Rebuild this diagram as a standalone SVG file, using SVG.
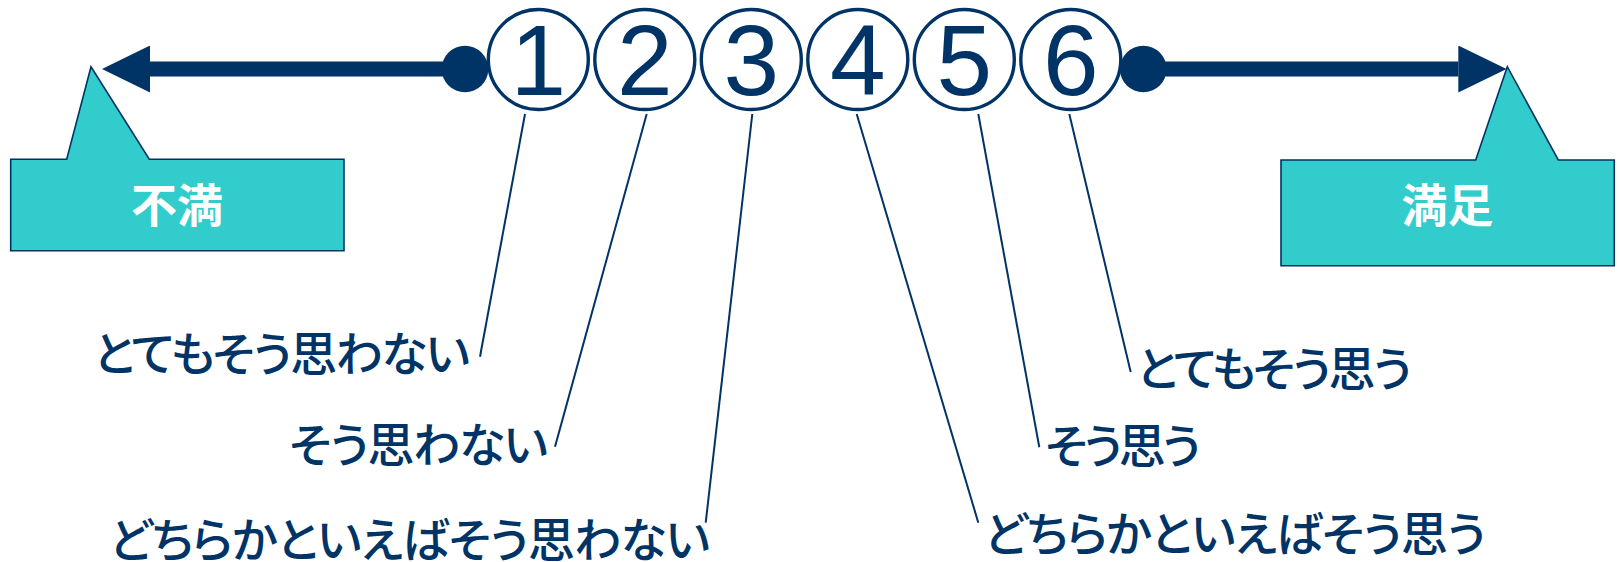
<svg xmlns="http://www.w3.org/2000/svg" width="1620" height="562" viewBox="0 0 1620 562">
  <style>
    .callout { fill: #33CCCC; stroke: #003366; stroke-width: 1.6; stroke-linejoin: miter; }
    .callout-text { font-family: "Noto Sans CJK JP", sans-serif; font-weight: bold; font-size: 46px; fill: #FFFFFF; text-anchor: middle; }
    .ring { fill: #FFFFFF; stroke: #003366; stroke-width: 3.4; }
    .digit { font-family: "Liberation Sans", Arial, sans-serif; font-size: 100px; fill: #003366; text-anchor: middle; }
    .label { font-family: "Noto Sans CJK JP", sans-serif; font-size: 47px; font-weight: 500; fill: #003366; font-feature-settings: "palt"; }
    .leader { stroke: #003366; stroke-width: 2; fill: none; }
    .axis { stroke: #003366; stroke-width: 15; fill: none; }
    .dot { fill: #003366; }
  </style>
  <defs>
    <marker id="arrowhead" markerUnits="userSpaceOnUse" markerWidth="48" markerHeight="47" refX="0" refY="23.5" orient="auto" viewBox="0 0 48 47">
      <path d="M0,0 L48,23.5 L0,47 Z" fill="#003366"/>
    </marker>
  </defs>

  <rect x="0" y="0" width="1620" height="562" fill="#FFFFFF"/>

  <g id="callout-fuman">
    <path class="callout" d="M10.7,159.3 H66.7 L91,66.7 L149.3,159.3 H344 V250.7 H10.7 Z"/>
    <text class="callout-text" x="177" y="222">不満</text>
  </g>

  <g id="callout-manzoku">
    <path class="callout" d="M1281,160 H1475.7 L1507.3,66.7 L1558.3,160 H1614.3 V265.7 H1281 Z"/>
    <text class="callout-text" x="1447.5" y="222">満足</text>
  </g>

  <g id="connectors">
    <line class="axis" x1="465" y1="69" x2="150" y2="69" marker-end="url(#arrowhead)"/>
    <line class="axis" x1="1143.3" y1="69" x2="1458.3" y2="69" marker-end="url(#arrowhead)"/>
    <circle class="dot" cx="465" cy="69" r="23.3"/>
    <circle class="dot" cx="1143.3" cy="69" r="23.3"/>
    <line class="leader" x1="525" y1="114" x2="480" y2="356.7"/>
    <line class="leader" x1="646.7" y1="114" x2="555" y2="446.7"/>
    <line class="leader" x1="752.3" y1="114" x2="705.7" y2="522.7"/>
    <line class="leader" x1="856.7" y1="114" x2="978.3" y2="522.7"/>
    <line class="leader" x1="978.3" y1="114" x2="1039.3" y2="447.3"/>
    <line class="leader" x1="1069.3" y1="114" x2="1130.7" y2="372"/>
  </g>

  <g id="num-1">
    <circle class="ring" cx="538.3" cy="59.5" r="50"/>
    <text class="digit" x="538.3" y="95">1</text>
  </g>
  <g id="num-2">
    <circle class="ring" cx="644.8" cy="59.5" r="50"/>
    <text class="digit" x="644.8" y="95">2</text>
  </g>
  <g id="num-3">
    <circle class="ring" cx="751.3" cy="59.5" r="50"/>
    <text class="digit" x="751.3" y="95">3</text>
  </g>
  <g id="num-4">
    <circle class="ring" cx="857.8" cy="59.5" r="50"/>
    <text class="digit" x="857.8" y="95">4</text>
  </g>
  <g id="num-5">
    <circle class="ring" cx="964.3" cy="59.5" r="50"/>
    <text class="digit" x="964.3" y="95">5</text>
  </g>
  <g id="num-6">
    <circle class="ring" cx="1070.8" cy="59.5" r="50"/>
    <text class="digit" x="1070.8" y="95">6</text>
  </g>

  <g id="label-1">
    <text class="label" x="93" y="371" textLength="377" lengthAdjust="spacing">とてもそう思わない</text>
  </g>
  <g id="label-2">
    <text class="label" x="289" y="462" textLength="259" lengthAdjust="spacing">そう思わない</text>
  </g>
  <g id="label-3">
    <text class="label" x="109" y="557" textLength="601" lengthAdjust="spacing">どちらかといえばそう思わない</text>
  </g>
  <g id="label-4">
    <text class="label" x="984" y="551" textLength="502" lengthAdjust="spacing">どちらかといえばそう思う</text>
  </g>
  <g id="label-5">
    <text class="label" x="1045" y="463" textLength="156" lengthAdjust="spacing">そう思う</text>
  </g>
  <g id="label-6">
    <text class="label" x="1136" y="386" textLength="276" lengthAdjust="spacing">とてもそう思う</text>
  </g>
</svg>
